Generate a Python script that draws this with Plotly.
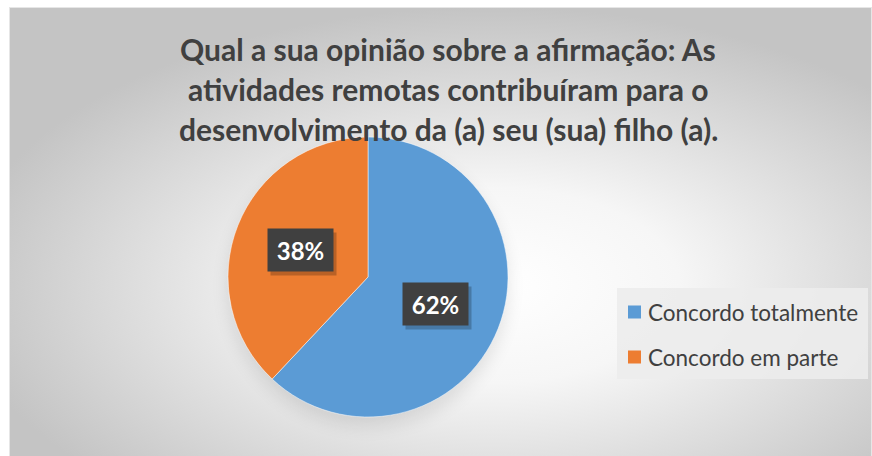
import base64
import math
import plotly.graph_objects as go

# Survey answers and their shares (%)
labels = ["Concordo totalmente", "Concordo em parte"]
values = [62, 38]
colors = ["#5B9BD5", "#ED7D31"]
title_lines = [
    "Qual a sua opinião sobre a afirmação: As",
    "atividades remotas contribuíram para o",
    "desenvolvimento da (a) seu (sua) filho (a).",
]

W, H = 872, 456
FONT = "Lato"
TEXT_DARK = "#404040"

# Chart area (px from top-left) and pie domain
area_x0, area_y0 = 9, 7
pie_cx, pie_cy, pie_r = 368, 277, 140
dom_x = [(pie_cx - pie_r) / W, (pie_cx + pie_r) / W]
dom_y = [1 - (pie_cy + pie_r) / H, 1 - (pie_cy - pie_r) / H]


def px(x):
    return x / W


def py(y):
    return 1 - y / H


# Soft radial-gradient backdrop with a faint shadow under the pie
aw, ah = W - area_x0, H - area_y0
svg = f"""<svg xmlns="http://www.w3.org/2000/svg" width="{aw}" height="{ah}">
<defs>
<radialGradient id="g" cx="0.56" cy="0.62" r="0.62">
<stop offset="0" stop-color="#ffffff"/>
<stop offset="0.35" stop-color="#f6f6f6"/>
<stop offset="1" stop-color="#c4c4c4"/>
</radialGradient>
<filter id="b" x="-50%" y="-50%" width="200%" height="200%"><feGaussianBlur stdDeviation="9"/></filter>
</defs>
<rect x="0" y="0" width="{aw}" height="{ah}" fill="url(#g)"/>
<rect x="0.5" y="0.5" width="{aw - 1}" height="{ah}" fill="none" stroke="#e6e6e6"/>
<circle cx="{pie_cx - area_x0}" cy="{pie_cy - area_y0 + 9}" r="{pie_r}" fill="#000" opacity="0.10" filter="url(#b)"/>
</svg>"""
bg_uri = "data:image/svg+xml;base64," + base64.b64encode(svg.encode()).decode()

fig = go.Figure(
    go.Pie(
        labels=labels,
        values=values,
        marker=dict(colors=colors, line=dict(color="rgba(255,255,255,0.5)", width=1)),
        sort=False,
        direction="clockwise",
        rotation=0,
        textinfo="none",
        hoverinfo="label+percent",
        domain=dict(x=dom_x, y=dom_y),
        showlegend=False,
    )
)

annotations = []
shapes = []

# Title, one annotation per line
for i, line in enumerate(title_lines):
    annotations.append(dict(
        x=px(448), y=py(49 + 40 * i), xref="paper", yref="paper",
        xanchor="center", yanchor="middle", showarrow=False,
        text=f"<b>{line}</b>",
        font=dict(family=FONT, size=30, color=TEXT_DARK),
    ))

# Data labels placed at the middle angle of each slice
total = sum(values)
cum = 0
label_frac = 0.52
for v in values:
    mid = (cum + v / 2) / total
    cum += v
    ang = 2 * math.pi * mid
    lx = pie_cx + math.sin(ang) * pie_r * label_frac
    ly = pie_cy - math.cos(ang) * pie_r * label_frac
    pct = f"{round(100 * v / total)}%"
    common = dict(xref="paper", yref="paper", xanchor="center", yanchor="middle",
                  showarrow=False, width=61, height=38, borderpad=2)
    annotations.append(dict(x=px(lx), y=py(ly), xshift=3, yshift=-4, text=" ",
                            bgcolor="rgba(0,0,0,0.22)", **common))
    annotations.append(dict(x=px(lx), y=py(ly), text=f"<b>{pct}</b>",
                            bgcolor="#404040",
                            font=dict(family=FONT, size=24, color="white"), **common))

# Legend box
shapes.append(dict(type="rect", xref="paper", yref="paper",
                   x0=px(617), x1=px(868), y0=py(379), y1=py(288),
                   fillcolor="rgba(236,236,236,0.9)", line=dict(width=0), layer="below"))
for i, (lab, col) in enumerate(zip(labels, colors)):
    cy = 312 + 45 * i
    shapes.append(dict(type="rect", xref="paper", yref="paper",
                       x0=px(628), x1=px(641), y0=py(cy + 6.5), y1=py(cy - 6.5),
                       fillcolor=col, line=dict(width=0)))
    annotations.append(dict(x=px(646), y=py(cy), xref="paper", yref="paper",
                            xanchor="left", yanchor="middle", showarrow=False,
                            text=lab, font=dict(family=FONT, size=22.5, color=TEXT_DARK)))

fig.update_layout(
    width=W, height=H,
    margin=dict(l=0, r=0, t=0, b=0),
    paper_bgcolor="white",
    plot_bgcolor="rgba(0,0,0,0)",
    annotations=annotations,
    shapes=shapes,
    images=[dict(source=bg_uri, xref="paper", yref="paper",
                 x=px(area_x0), y=py(area_y0), sizex=aw / W, sizey=ah / H,
                 xanchor="left", yanchor="top", sizing="stretch", layer="below")],
)

fig.write_html("out.html")
